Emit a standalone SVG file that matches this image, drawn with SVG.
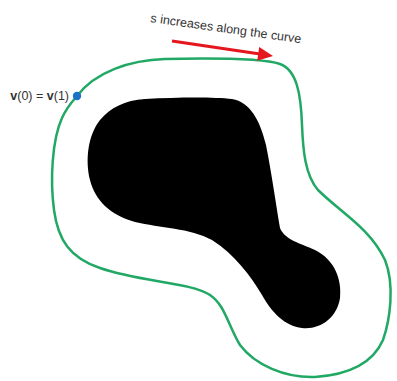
<svg xmlns="http://www.w3.org/2000/svg" width="397" height="381" viewBox="0 0 397 381">
<style>
.lbl{font-family:"Liberation Sans",Arial,sans-serif;font-size:12.5px;fill:#333}
.curve{fill:none;stroke:#21a865;stroke-width:2.5}
.red{stroke:#e5161d;stroke-width:3;fill:none}
</style>
<rect width="397" height="381" fill="#fff"/>
<g id="shape">
<path d="M 145,99 C 180,97 215,97 232,99 C 250,102 260,120 266,145 C 272,175 276,205 280,228 C 285,240 300,243 315,250 C 335,260 342,280 340,298 C 337,318 320,330 302,328 C 285,326 272,313 262,295 C 250,275 235,255 212,240 C 190,228 160,228 135,222 C 110,215 95,200 90,180 C 85,160 88,135 100,120 C 110,108 125,100 145,99 Z" fill="#000"/>
</g>
<g id="curve">
<path class="curve" d="M 77,96 C 95,72 130,60 165,59 C 215,58 262,58 280,64 C 297,70 301,95 302,125 C 303,150 305,175 318,190 C 340,212 370,228 385,260 C 395,285 390,320 383,340 C 372,365 345,375 315,377 C 285,378 255,365 240,345 C 228,325 225,305 210,295 C 190,282 140,282 100,268 C 70,258 58,240 54,210 C 50,180 52,140 62,118 C 67,107 72,102 77,96 Z"/>
</g>
<g id="start-point">
<circle cx="77" cy="96" r="4.2" fill="#1b72c6"/>
<text class="lbl" x="69" y="100" text-anchor="end"><tspan font-weight="bold">v</tspan>(0) = <tspan font-weight="bold">v</tspan>(1)</text>
</g>
<g id="direction">
<text class="lbl" x="150" y="22" transform="rotate(8 150 22)">s increases along the curve</text>
<line class="red" x1="172" y1="41" x2="260" y2="54"/>
<polygon points="273,56 259.2,46.9 257.2,60.7" fill="#e5161d"/>
</g>
</svg>
